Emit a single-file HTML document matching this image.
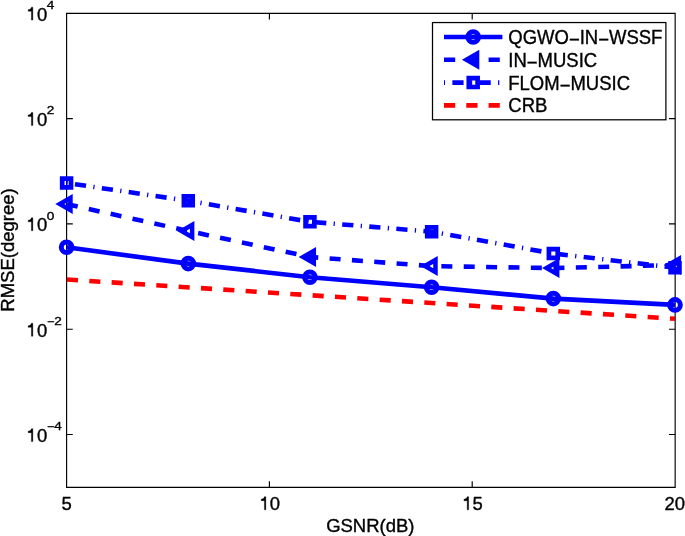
<!DOCTYPE html>
<html><head><meta charset="utf-8"><style>
html,body{margin:0;padding:0;background:#fff;}
svg{display:block;will-change:transform;}
text{font-family:"Liberation Sans",sans-serif;fill:#000;stroke:#000;stroke-width:0.35px;}
</style></head><body>
<svg width="685" height="536" viewBox="0 0 685 536">
<rect width="685" height="536" fill="#fff"/>
<path d="M66.6,13.3H675.15V487.4H66.6Z" fill="none" stroke="#000" stroke-width="1.15"/>
<path d="M269.40,487.4v-6.2M269.40,13.3v6.2M472.20,487.4v-6.2M472.20,13.3v6.2M66.6,118.60h6.2M675.15,118.60h-6.2M66.6,223.90h6.2M675.15,223.90h-6.2M66.6,329.20h6.2M675.15,329.20h-6.2M66.6,434.50h6.2M675.15,434.50h-6.2" fill="none" stroke="#000" stroke-width="1.15"/>
<polyline points="66.60,247.30 188.28,263.60 309.96,277.20 431.64,287.30 553.32,298.60 675.00,304.90" fill="none" stroke="#0000ff" stroke-width="4.6" stroke-linejoin="miter"/>
<polyline points="66.60,204.10 188.28,231.00 309.96,257.00 431.64,266.10 553.32,268.10 675.00,265.00" fill="none" stroke="#0000ff" stroke-width="4.6" stroke-linejoin="round" stroke-dasharray="0.00 0.37 11.00 11.38 11.00 11.38 11.00 11.38 11.00 11.38 11.00 11.38 11.00 11.44 11.00 11.38 11.00 11.38 11.00 11.38 11.00 11.38 11.00 11.38 10.76 11.38 11.00 11.38 11.00 11.38 11.00 11.38 11.00 11.38 11.00 11.50 11.00 11.38 11.00 11.38 11.00 11.38 11.00 11.38 11.00 11.38 0.10 0.13 11.00 11.38 11.00 11.38 11.00 11.38 11.00 11.38 11.00 11.38 9.69 1000.00"/>
<polyline points="66.60,183.00 188.28,200.80 309.96,221.80 431.64,231.70 553.32,253.50 675.00,267.70" fill="none" stroke="#0000ff" stroke-width="4.6" stroke-linejoin="round" stroke-dasharray="1.10 7.35 11.20 7.35 1.25 7.35 11.20 7.35 1.25 7.35 11.20 7.35 1.25 7.35 11.20 7.35 1.25 7.35 10.87 7.35 1.25 7.35 11.20 7.35 1.25 7.35 11.20 7.35 1.25 7.35 11.20 7.35 1.25 7.35 11.20 7.35 1.25 6.53 11.20 7.35 1.25 7.35 11.20 7.35 1.25 7.35 11.20 7.35 1.25 7.35 11.20 7.35 1.25 7.35 11.20 7.35 1.25 7.35 11.20 7.35 1.25 7.35 11.20 7.35 1.25 7.35 11.20 7.35 1.25 7.35 11.20 7.35 1.25 6.91 11.20 7.35 1.25 7.35 11.20 7.35 1.25 7.35 11.20 7.35 1.25 7.35 11.20 7.35 1.25 7.35 10.50 1000.00"/>
<line x1="66.60" y1="279.5" x2="675.00" y2="318.75" stroke="#ff0000" stroke-width="4.6" stroke-dasharray="11.1 11.28" stroke-dashoffset="-0.35"/>
<circle cx="66.60" cy="247.30" r="5.3" fill="none" stroke="#0000ff" stroke-width="5.0"/>
<circle cx="188.28" cy="263.60" r="5.3" fill="none" stroke="#0000ff" stroke-width="5.0"/>
<circle cx="309.96" cy="277.20" r="5.3" fill="none" stroke="#0000ff" stroke-width="5.0"/>
<circle cx="431.64" cy="287.30" r="5.3" fill="none" stroke="#0000ff" stroke-width="5.0"/>
<circle cx="553.32" cy="298.60" r="5.3" fill="none" stroke="#0000ff" stroke-width="5.0"/>
<circle cx="675.00" cy="304.90" r="5.3" fill="none" stroke="#0000ff" stroke-width="5.0"/>
<path fill-rule="evenodd" fill="#0000ff" d="M55.30,204.10L72.70,194.10L72.70,214.10zM64.33,204.10L68.20,206.32L68.20,201.88z"/>
<path fill-rule="evenodd" fill="#0000ff" d="M176.98,231.00L194.38,221.00L194.38,241.00zM186.01,231.00L189.88,233.22L189.88,228.78z"/>
<path fill-rule="evenodd" fill="#0000ff" d="M298.66,257.00L316.06,247.00L316.06,267.00zM307.69,257.00L311.56,259.22L311.56,254.78z"/>
<path fill-rule="evenodd" fill="#0000ff" d="M420.34,266.10L437.74,256.10L437.74,276.10zM429.37,266.10L433.24,268.32L433.24,263.88z"/>
<path fill-rule="evenodd" fill="#0000ff" d="M542.02,268.10L559.42,258.10L559.42,278.10zM551.05,268.10L554.92,270.32L554.92,265.88z"/>
<path fill-rule="evenodd" fill="#0000ff" d="M663.70,265.00L681.10,255.00L681.10,275.00zM672.73,265.00L676.60,267.22L676.60,262.78z"/>
<path fill-rule="evenodd" fill="#0000ff" d="M59.85,176.25h13.5v13.5h-13.5zM64.55,180.95v4.1h4.1v-4.1z"/>
<path fill-rule="evenodd" fill="#0000ff" d="M181.53,194.05h13.5v13.5h-13.5zM186.23,198.75v4.1h4.1v-4.1z"/>
<path fill-rule="evenodd" fill="#0000ff" d="M303.21,215.05h13.5v13.5h-13.5zM307.91,219.75v4.1h4.1v-4.1z"/>
<path fill-rule="evenodd" fill="#0000ff" d="M424.89,224.95h13.5v13.5h-13.5zM429.59,229.65v4.1h4.1v-4.1z"/>
<path fill-rule="evenodd" fill="#0000ff" d="M546.57,246.75h13.5v13.5h-13.5zM551.27,251.45v4.1h4.1v-4.1z"/>
<path fill-rule="evenodd" fill="#0000ff" d="M668.25,260.95h13.5v13.5h-13.5zM672.95,265.65v4.1h4.1v-4.1z"/>
<rect x="432.5" y="22.55" width="233.39999999999998" height="97.25" fill="#fff" stroke="#000" stroke-width="1.25"/>
<line x1="444.0" y1="37.0" x2="502.4" y2="37.0" stroke="#0000ff" stroke-width="4.6"/>
<circle cx="473.20" cy="37.00" r="5.3" fill="none" stroke="#0000ff" stroke-width="5.0"/>
<line x1="444.0" y1="59.75" x2="502.4" y2="59.75" stroke="#0000ff" stroke-width="4.6" stroke-dasharray="11.2 11.1"/>
<path fill-rule="evenodd" fill="#0000ff" d="M461.90,59.75L479.30,49.75L479.30,69.75zM470.93,59.75L474.80,61.97L474.80,57.53z"/>
<line x1="444.0" y1="82.6" x2="502.4" y2="82.6" stroke="#0000ff" stroke-width="4.6" stroke-dasharray="11.2 7.35 1.25 7.35" stroke-dashoffset="18.775"/>
<path fill-rule="evenodd" fill="#0000ff" d="M466.45,75.85h13.5v13.5h-13.5zM471.15,80.55v4.1h4.1v-4.1z"/>
<line x1="444.0" y1="105.4" x2="502.4" y2="105.4" stroke="#ff0000" stroke-width="4.6" stroke-dasharray="11.2 11.1"/>
<text transform="translate(508.3,43.90) scale(1,1.05)" font-size="18.5">QGWO<tspan dy="1.9">&#8722;</tspan><tspan dy="-1.9">IN</tspan><tspan dy="1.9">&#8722;</tspan><tspan dy="-1.9">WSSF</tspan></text>
<text transform="translate(508.3,66.65) scale(1,1.05)" font-size="18.5">IN<tspan dy="1.9">&#8722;</tspan><tspan dy="-1.9">MUSIC</tspan></text>
<text transform="translate(508.3,89.50) scale(1,1.05)" font-size="18.5">FLOM<tspan dy="1.9">&#8722;</tspan><tspan dy="-1.9">MUSIC</tspan></text>
<text transform="translate(508.3,112.30) scale(1,1.05)" font-size="18.5">CRB</text>
<text transform="translate(61.45,509.80) scale(1,1.03)" font-size="18.5">5</text>
<path d="M264.40,496.70L265.85,496.70L265.85,509.80L264.40,509.80L264.40,500.70L261.15,500.70L261.15,499.20C262.65,499.15 264.20,498.20 264.40,496.70Z" fill="#000" stroke="#000" stroke-width="0.35"/>
<text transform="translate(269.85,509.80) scale(1,1.03)" font-size="18.5">0</text>
<path d="M467.20,496.70L468.65,496.70L468.65,509.80L467.20,509.80L467.20,500.70L463.95,500.70L463.95,499.20C465.45,499.15 467.00,498.20 467.20,496.70Z" fill="#000" stroke="#000" stroke-width="0.35"/>
<text transform="translate(472.40,509.80) scale(1,1.03)" font-size="18.5">5</text>
<text transform="translate(664.45,509.80) scale(1,1.03)" font-size="18.5">20</text>
<path d="M31.40,7.20L32.85,7.20L32.85,20.10L31.40,20.10L31.40,11.20L28.15,11.20L28.15,9.70C29.65,9.65 31.20,8.70 31.40,7.20Z" fill="#000" stroke="#000" stroke-width="0.35"/>
<text transform="translate(36.90,21.00) scale(1,1.03)" font-size="18.5">0</text>
<text transform="translate(46.75,9) scale(1.15,1)" font-size="11.8">4</text>
<path d="M31.40,112.50L32.85,112.50L32.85,125.40L31.40,125.40L31.40,116.50L28.15,116.50L28.15,115.00C29.65,114.95 31.20,114.00 31.40,112.50Z" fill="#000" stroke="#000" stroke-width="0.35"/>
<text transform="translate(36.90,126.00) scale(1,1.03)" font-size="18.5">0</text>
<text transform="translate(46.75,114) scale(1.15,1)" font-size="11.8">2</text>
<path d="M31.40,217.80L32.85,217.80L32.85,230.70L31.40,230.70L31.40,221.80L28.15,221.80L28.15,220.30C29.65,220.25 31.20,219.30 31.40,217.80Z" fill="#000" stroke="#000" stroke-width="0.35"/>
<text transform="translate(36.90,231.00) scale(1,1.03)" font-size="18.5">0</text>
<text transform="translate(46.75,220) scale(1.15,1)" font-size="11.8">0</text>
<path d="M31.40,323.30L32.85,323.30L32.85,336.20L31.40,336.20L31.40,327.30L28.15,327.30L28.15,325.80C29.65,325.75 31.20,324.80 31.40,323.30Z" fill="#000" stroke="#000" stroke-width="0.35"/>
<text transform="translate(36.90,337.00) scale(1,1.03)" font-size="18.5">0</text>
<text x="46.9" y="326" font-size="12.5">&#8722;</text>
<text transform="translate(54.2,325) scale(1.15,1)" font-size="11.8">2</text>
<path d="M31.40,428.65L32.85,428.65L32.85,441.55L31.40,441.55L31.40,432.65L28.15,432.65L28.15,431.15C29.65,431.10 31.20,430.15 31.40,428.65Z" fill="#000" stroke="#000" stroke-width="0.35"/>
<text transform="translate(36.90,442.00) scale(1,1.03)" font-size="18.5">0</text>
<text x="46.9" y="431" font-size="12.5">&#8722;</text>
<text transform="translate(54.2,430) scale(1.15,1)" font-size="11.8">4</text>
<text transform="translate(370.3,532.3) scale(1,1.04)" font-size="18.5" text-anchor="middle">GSNR(dB)</text>
<text transform="translate(13.75,250.0) rotate(-90) scale(1,1.04)" font-size="18.5" text-anchor="middle">RMSE(degree)</text>
</svg></body></html>
